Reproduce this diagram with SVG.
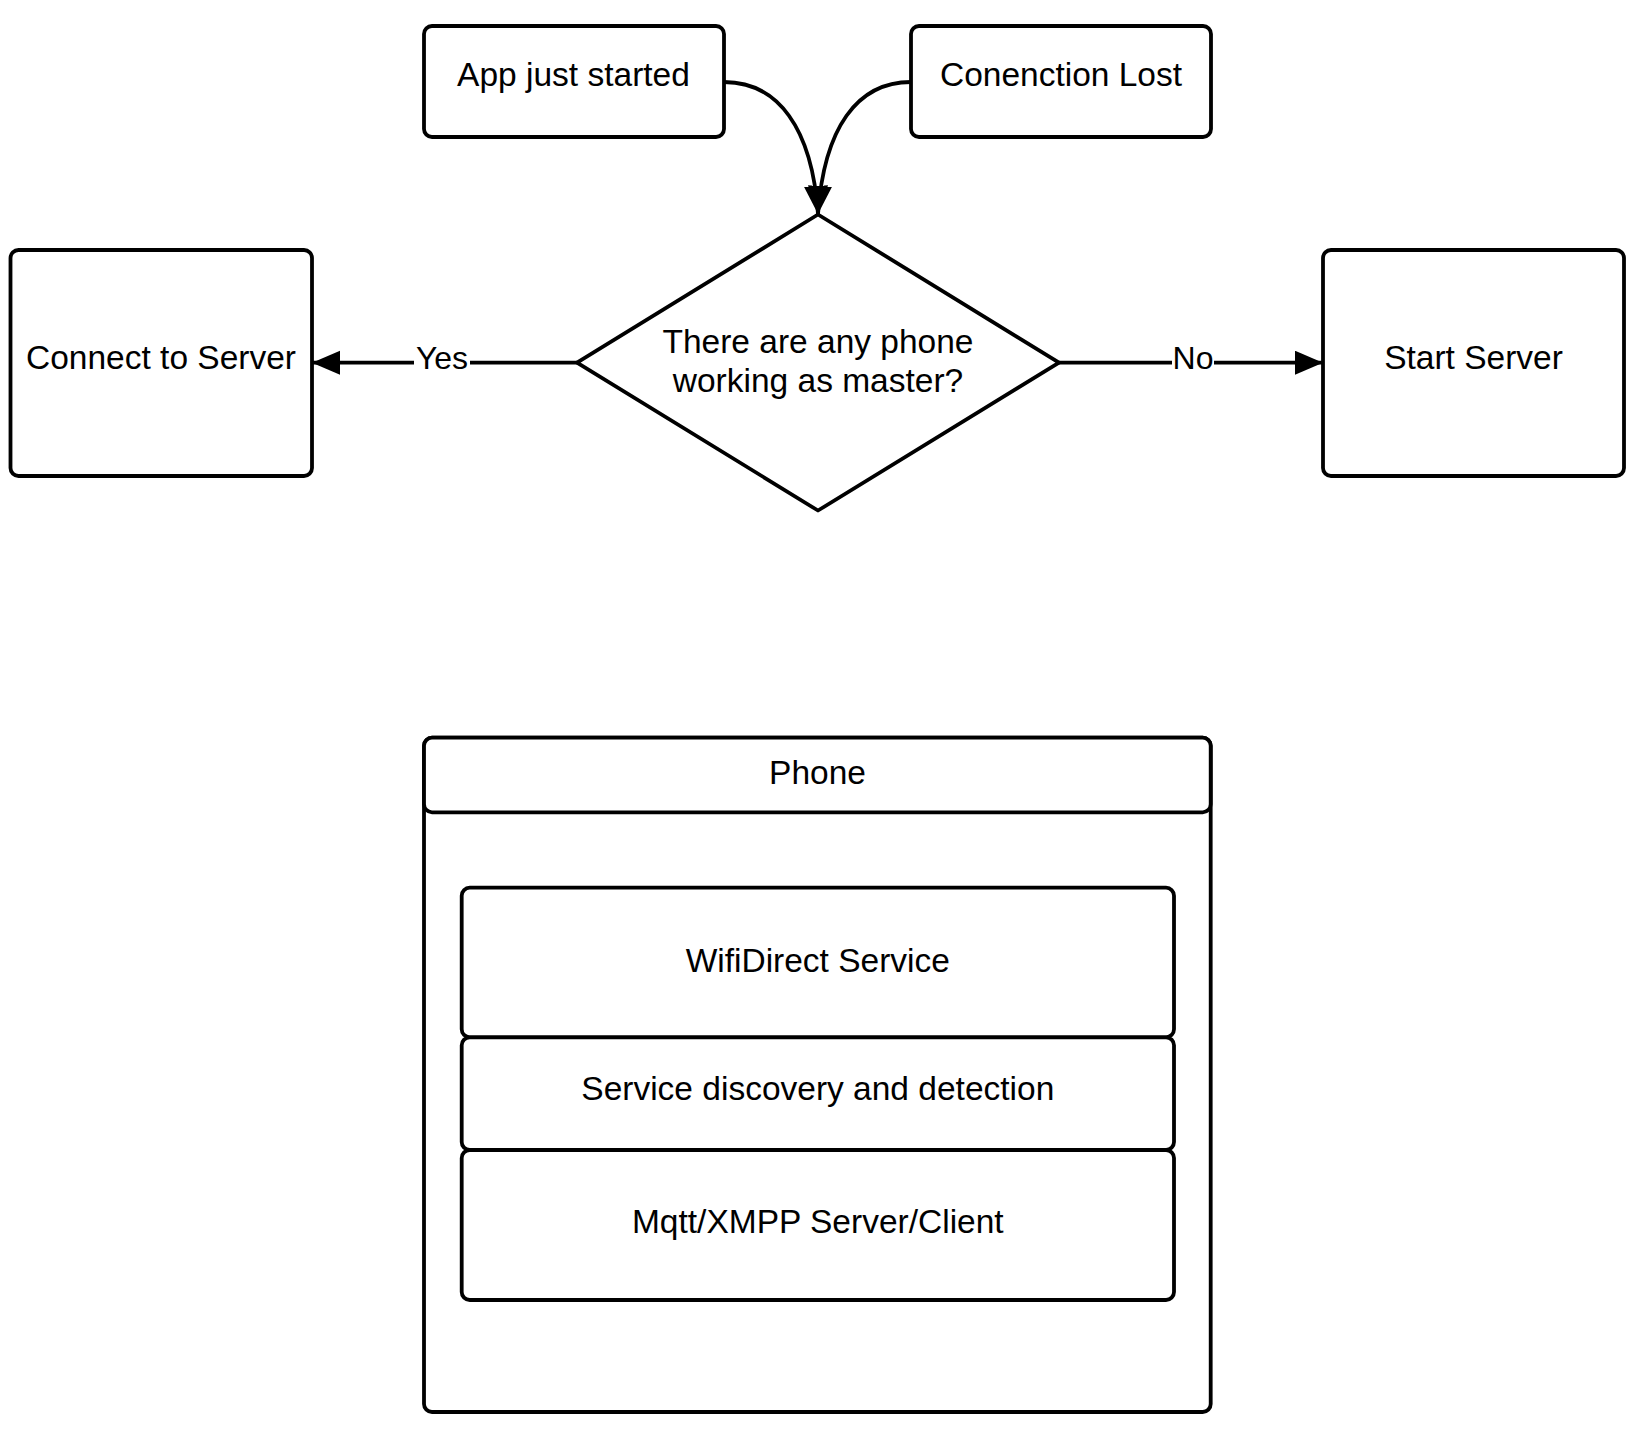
<svg xmlns="http://www.w3.org/2000/svg" width="1640" height="1440" viewBox="0 0 1640 1440">
<style>
.box{fill:#fff;stroke:#000;stroke-width:3.8;stroke-linejoin:round}
.t{font-family:"Liberation Sans",Arial,sans-serif;font-size:33.5px;fill:#000;text-anchor:middle}
.lbl{font-family:"Liberation Sans",Arial,sans-serif;font-size:32px;fill:#000;text-anchor:middle}
.edge{fill:none;stroke:#000;stroke-width:3.8}
</style>
<defs>
<marker id="arr" markerUnits="userSpaceOnUse" markerWidth="30" markerHeight="26" refX="28" refY="12" orient="auto">
<path d="M0,0 L28,12 L0,24 z" fill="#000"/>
</marker>
</defs>
<rect width="1640" height="1440" fill="#fff"/>
<g id="app-started">
<rect class="box" x="424" y="26" width="300" height="111" rx="8"/>
<text class="t" x="573.5" y="86">App just started</text>
</g>
<g id="connection-lost">
<rect class="box" x="911" y="26" width="300" height="111" rx="8"/>
<text class="t" x="1061" y="86">Conenction Lost</text>
</g>
<g id="decision">
<polygon class="box" points="818,214.5 1059,362.7 818,510.5 577,362.7"/>
<text class="t" x="818" y="352.7">There are any phone</text>
<text class="t" x="818" y="391.7">working as master?</text>
</g>
<g id="connect-server">
<rect class="box" x="10.5" y="250" width="301.5" height="226" rx="8"/>
<text class="t" x="161" y="369">Connect to Server</text>
</g>
<g id="start-server">
<rect class="box" x="1323" y="250" width="301" height="226" rx="8"/>
<text class="t" x="1473.5" y="369">Start Server</text>
</g>
<g id="connectors">
<path class="edge" d="M724,82 C778,82 812,128 818,214" marker-end="url(#arr)"/>
<path class="edge" d="M911,82 C857,82 824,128 818,214" marker-end="url(#arr)"/>
<path class="edge" d="M577,362.7 L312,362.7" marker-end="url(#arr)"/>
<path class="edge" d="M1059,362.7 L1323,362.7" marker-end="url(#arr)"/>
<rect x="414" y="340" width="56" height="36" fill="#fff"/>
<text class="lbl" x="442" y="369">Yes</text>
<rect x="1172" y="340" width="42" height="36" fill="#fff"/>
<text class="lbl" x="1193" y="369">No</text>
</g>
<g id="phone">
<rect class="box" x="424" y="737.7" width="786.7" height="674.3" rx="8"/>
<rect class="box" x="424" y="737.7" width="786.7" height="74.6" rx="8"/>
<text class="t" x="817.5" y="784">Phone</text>
</g>
<g id="wifidirect">
<rect class="box" x="461.7" y="887.7" width="712.3" height="149.6" rx="8"/>
<text class="t" x="817.8" y="972">WifiDirect Service</text>
</g>
<g id="service-discovery">
<rect class="box" x="461.7" y="1037.3" width="712.3" height="112.7" rx="8"/>
<text class="t" x="817.8" y="1100">Service discovery and detection</text>
</g>
<g id="mqtt">
<rect class="box" x="461.7" y="1150" width="712.3" height="150" rx="8"/>
<text class="t" x="817.8" y="1233">Mqtt/XMPP Server/Client</text>
</g>
</svg>
